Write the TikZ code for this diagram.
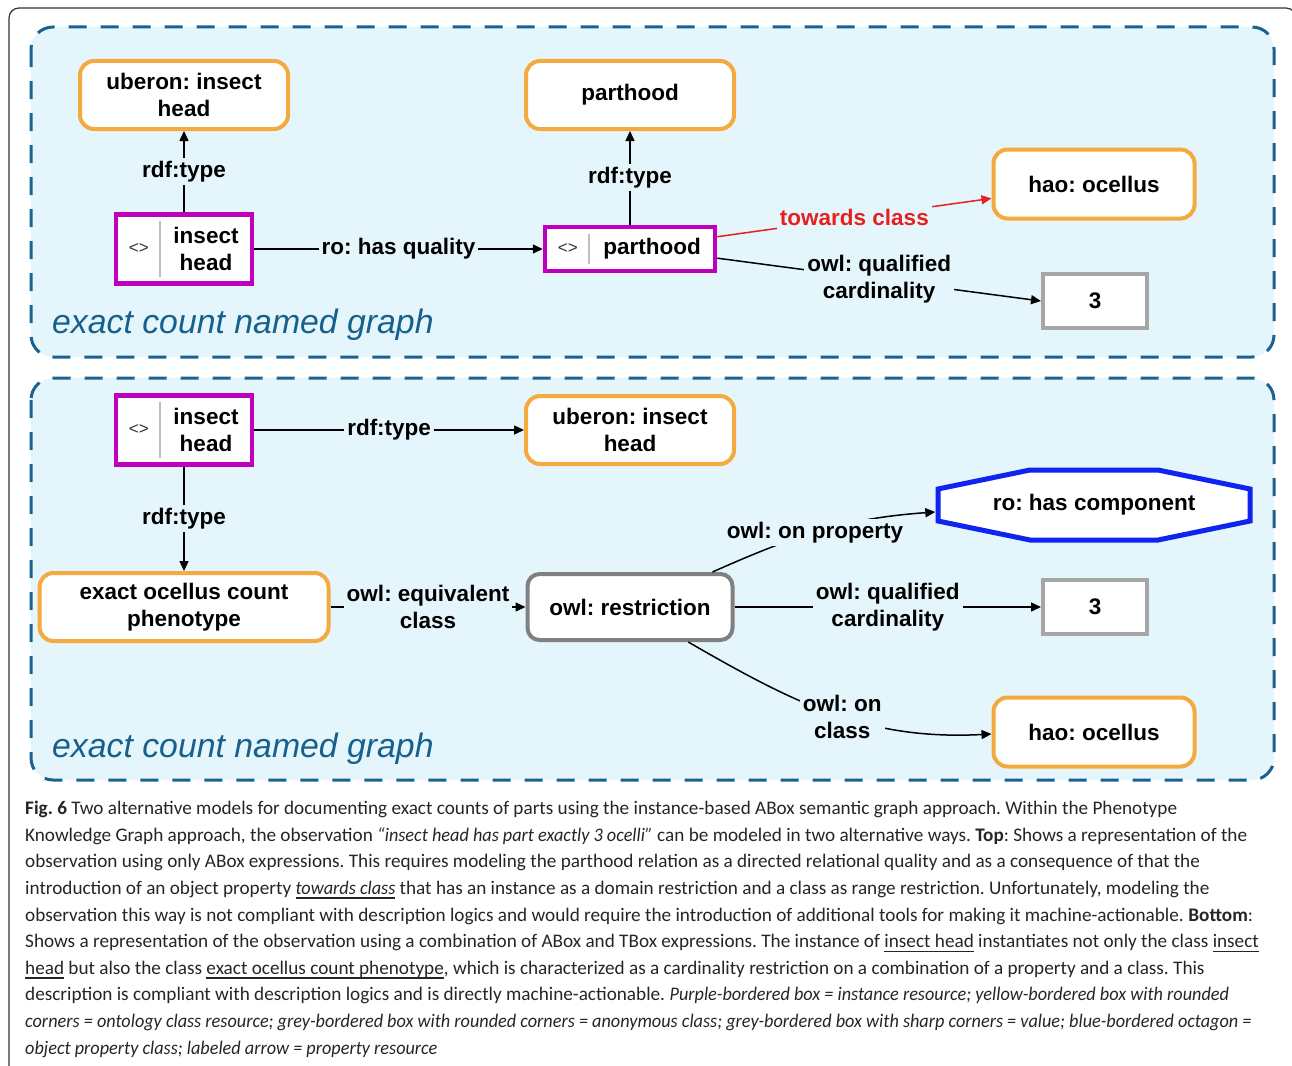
\documentclass[tikz,border=0pt]{standalone}
\usepackage{fontspec}
\setmainfont{Liberation Sans}
\newfontfamily\captionFont{Carlito}[ItalicFeatures={FakeStretch=0.95}]
\usetikzlibrary{arrows.meta}
\definecolor{panelFill}{RGB}{228,246,252}
\definecolor{panelLine}{RGB}{26,98,145}
\definecolor{titleBlue}{RGB}{24,96,140}
\definecolor{classOrange}{RGB}{244,170,62}
\definecolor{instancePurple}{RGB}{190,0,190}
\definecolor{valueGrey}{RGB}{166,166,166}
\definecolor{anonGrey}{RGB}{128,128,128}
\definecolor{propertyBlue}{RGB}{16,36,240}
\definecolor{towardsRed}{RGB}{228,32,32}
\definecolor{captionGrey}{RGB}{40,36,37}
\definecolor{separatorGrey}{RGB}{190,190,190}
\tikzstyle{figurePlane} = [x = 1pt, y = -1pt]
\tikzstyle{outerFrame} = [draw=black!80, line width=1.2pt, rounded corners=10pt]
\tikzstyle{namedGraph} = [draw=panelLine, fill=panelFill, line width=3pt, dash pattern=on 18pt off 14pt, rounded corners=22pt]
\tikzstyle{graphTitle} = [font=\fontsize{33.8}{34}\selectfont\itshape, text=titleBlue, anchor=base west, inner sep=0pt]
\tikzstyle{boxText} = [font=\fontsize{22.5}{27}\selectfont\bfseries, align=center, inner sep=0pt]
\tikzstyle{classBox} = [boxText, draw=classOrange, fill=white, line width=4pt, rounded corners=14pt, minimum width=208pt, minimum height=68pt]
\tikzstyle{instanceBox} = [draw=instancePurple, fill=white, line width=4.5pt, inner sep=0pt]
\tikzstyle{anonBox} = [boxText, draw=anonGrey, fill=white, line width=4pt, rounded corners=12pt]
\tikzstyle{valueBox} = [boxText, draw=valueGrey, fill=white, line width=4pt, minimum width=104pt, minimum height=54pt]
\tikzstyle{octagonLine} = [draw=propertyBlue, fill=white, line width=5pt, line join=miter]
\tikzstyle{relation} = [line width=1.5pt, -{Triangle[length=10pt, width=9pt]}]
\tikzstyle{edgeLabel} = [boxText, fill=panelFill, inner sep=3pt]
\tikzstyle{iriMark} = [font=\fontsize{17}{17}\selectfont, text=black!80, inner sep=0pt]
\tikzstyle{iriSeparator} = [draw=separatorGrey, line width=1.5pt]
\tikzstyle{captionText} = [font=\captionFont\fontsize{19.2}{26.6}\selectfont, text=captionGrey, align=left, anchor=north west, inner sep=0pt]
\newsavebox{\underlineBox}
\newcommand{\captionUnderline}[1]{\sbox{\underlineBox}{#1}\rlap{\rule[-4.5pt]{\wd\underlineBox}{1.6pt}}\usebox{\underlineBox}}
\newcommand{\instanceNode}[5]{
  \node [instanceBox, #4] (#1) at (#2,#3) {};
  \node [iriMark] (#1Mark) at ([xshift=25pt]#1.west) {<>};
  \draw [iriSeparator] ([xshift=46pt, yshift=-9pt]#1.north west) -- ([xshift=46pt, yshift=9pt]#1.south west);
  \node [boxText] (#1Text) at ([xshift=22pt]#1.center) {#5};
}

\begin{document}
\frenchspacing
\begin{tikzpicture}[figurePlane]
  \useasboundingbox (0,0) rectangle (1292,1065);
  \draw [outerFrame] (9,8) rectangle (1296,1080);
  \draw [namedGraph] (31,27) rectangle (1274,357);
  \draw [namedGraph] (31,378) rectangle (1274,780);

  \node [classBox] (uberonTop) at (184,95) {uberon: insect\\head};
  \node [classBox] (parthoodClass) at (630,95) {parthood};
  \instanceNode{insectTop}{184}{249}{minimum width=136pt, minimum height=69pt}{insect\\head}
  \instanceNode{parthoodInst}{630}{249}{minimum width=170pt, minimum height=44pt}{parthood}
  \node [classBox, minimum width=201pt, minimum height=69pt] (haoTop) at (1094,184) {hao: ocellus};
  \node [valueBox] (threeTop) at (1095,301) {3};
  \node [graphTitle] (titleTop) at (52,333) {exact count named graph};

  \draw [relation] (insectTop.north) -- node [edgeLabel] {rdf:type} (uberonTop.south);
  \draw [relation] (parthoodInst.north) -- node [edgeLabel] {rdf:type} (parthoodClass.south);
  \draw [relation] (insectTop.east) -- node [edgeLabel] {ro: has quality} (parthoodInst.west);
  \draw [relation, draw=towardsRed] (parthoodInst.8) -- node [edgeLabel, text=towardsRed] {towards class} (haoTop.188);
  \draw [relation] (parthoodInst.-6) -- node [edgeLabel] {owl: qualified\\cardinality} (threeTop.west);

  \instanceNode{insectBot}{184}{430}{minimum width=136pt, minimum height=69pt}{insect\\head}
  \node [classBox] (uberonBot) at (630,430) {uberon: insect\\head};
  \node [classBox, minimum width=289pt] (phenotype) at (184,607) {exact ocellus count\\phenotype};
  \node [anonBox, minimum width=205pt, minimum height=66pt] (restriction) at (630,607) {owl: restriction};
  \coordinate (componentCentre) at (1094,505);
  \draw [octagonLine] ([shift={(-64,-35)}]componentCentre) -- ([shift={(64,-35)}]componentCentre) -- ([shift={(156,-16)}]componentCentre) -- ([shift={(156,16)}]componentCentre) -- ([shift={(64,35)}]componentCentre) -- ([shift={(-64,35)}]componentCentre) -- ([shift={(-156,16)}]componentCentre) -- ([shift={(-156,-16)}]componentCentre) -- cycle;
  \node [boxText, minimum width=317pt, minimum height=70pt] (hasComponent) at (componentCentre) {ro: has component};
  \node [valueBox] (threeBot) at (1095,607) {3};
  \node [classBox, minimum width=201pt, minimum height=69pt] (haoBot) at (1094,732) {hao: ocellus};
  \node [graphTitle] (titleBot) at (52,757) {exact count named graph};

  \draw [relation] (insectBot.east) -- node [edgeLabel] {rdf:type} (uberonBot.west);
  \draw [relation] (insectBot.south) -- node [edgeLabel] {rdf:type} (phenotype.north);
  \draw [relation] (phenotype.east) -- node [edgeLabel] {owl: equivalent\\class} (restriction.west);
  \draw [relation] (restriction.23) to [out=24, in=184] node [edgeLabel, pos=0.47] {owl: on property} ([yshift=-7pt]hasComponent.west);
  \draw [relation] (restriction.east) -- node [edgeLabel] {owl: qualified\\cardinality} (threeBot.west);
  \draw [relation] (restriction.-31) to [out=-30, in=183] node [edgeLabel, pos=0.53] {owl: on\\class} ([yshift=-2pt]haoBot.west);

  \node [captionText] (caption) at (25,801) {\textbf{Fig. 6} Two alternative models for documenting exact counts of parts using the instance-based ABox semantic graph approach. Within the Phenotype\\
Knowledge Graph approach, the observation \textit{“insect head has part exactly 3 ocelli”} can be modeled in two alternative ways. \textbf{Top}: Shows a representation of the\\
observation using only ABox expressions. This requires modeling the parthood relation as a directed relational quality and as a consequence of that the\\
introduction of an object property \captionUnderline{\textit{towards class}} that has an instance as a domain restriction and a class as range restriction. Unfortunately, modeling the\\
observation this way is not compliant with description logics and would require the introduction of additional tools for making it machine-actionable. \textbf{Bottom}:\\
Shows a representation of the observation using a combination of ABox and TBox expressions. The instance of \captionUnderline{insect head} instantiates not only the class \captionUnderline{insect}\\
\captionUnderline{head} but also the class \captionUnderline{exact ocellus count phenotype}, which is characterized as a cardinality restriction on a combination of a property and a class. This\\
description is compliant with description logics and is directly machine-actionable. \textit{Purple-bordered box = instance resource; yellow-bordered box with rounded}\\
\textit{corners = ontology class resource; grey-bordered box with rounded corners = anonymous class; grey-bordered box with sharp corners = value; blue-bordered octagon =}\\
\textit{object property class; labeled arrow = property resource}};
\end{tikzpicture}
\end{document}
